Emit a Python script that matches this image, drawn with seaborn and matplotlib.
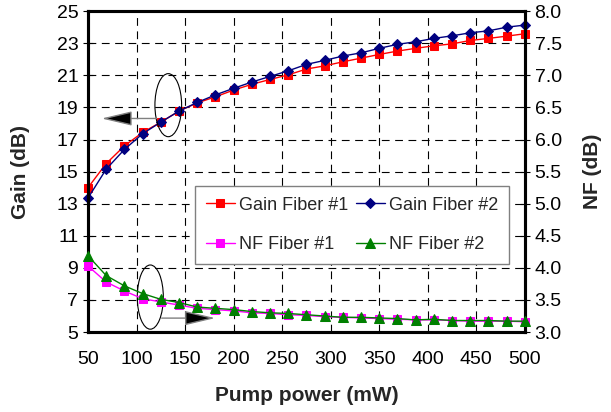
import pandas as pd
import seaborn as sns
import matplotlib.pyplot as plt
from matplotlib.patches import Ellipse

power = [50, 68.75, 87.5, 106.25, 125, 143.75, 162.5, 181.25, 200, 218.75, 237.5, 256.25,
         275, 293.75, 312.5, 331.25, 350, 368.75, 387.5, 406.25, 425, 443.75, 462.5, 481.25, 500]
gain1 = [14.0, 15.5, 16.6, 17.44, 18.08, 18.77, 19.28, 19.66, 20.08, 20.44, 20.74, 21.03,
         21.39, 21.59, 21.84, 22.07, 22.3, 22.51, 22.68, 22.84, 22.96, 23.17, 23.3, 23.44, 23.59]
gain2 = [13.35, 15.15, 16.38, 17.36, 18.08, 18.77, 19.31, 19.78, 20.19, 20.58, 20.93, 21.28,
         21.68, 21.93, 22.2, 22.4, 22.68, 22.93, 23.09, 23.3, 23.46, 23.65, 23.77, 24.0, 24.13]
nf1 = [4.03, 3.78, 3.64, 3.52, 3.47, 3.42, 3.37, 3.35, 3.33, 3.30, 3.29, 3.27,
       3.26, 3.24, 3.23, 3.22, 3.21, 3.20, 3.19, 3.19, 3.18, 3.17, 3.17, 3.17, 3.16]
nf2 = [4.19, 3.88, 3.72, 3.60, 3.51, 3.46, 3.39, 3.37, 3.35, 3.32, 3.30, 3.29,
       3.27, 3.25, 3.23, 3.23, 3.22, 3.21, 3.19, 3.20, 3.18, 3.18, 3.18, 3.17, 3.17]

df = pd.DataFrame({"power": power, "gain1": gain1, "gain2": gain2, "nf1": nf1, "nf2": nf2})

sns.set_style("white")
plt.rcParams["font.family"] = ["Liberation Sans", "DejaVu Sans"]

fig = plt.figure(figsize=(6.11, 4.12), dpi=100)
ax = fig.add_axes([0.144, 0.194, 0.715, 0.779])
ax2 = ax.twinx()

kw = dict(linewidth=1, clip_on=False, legend=False)
sns.lineplot(data=df, x="power", y="gain1", ax=ax, color="#FF0000", marker="s",
             markersize=6, markeredgecolor="#FF0000", zorder=4, **kw)
sns.lineplot(data=df, x="power", y="gain2", ax=ax, color="#000080", marker="D",
             markersize=5, markeredgecolor="#000080", zorder=5, **kw)
sns.lineplot(data=df, x="power", y="nf1", ax=ax2, color="#FF00FF", marker="s",
             markersize=6, markeredgecolor="#FF00FF", zorder=4, **kw)
sns.lineplot(data=df, x="power", y="nf2", ax=ax2, color="#008000", marker="^",
             markersize=7, markeredgecolor="#008000", zorder=5, **kw)

ax.set_xlim(50, 500)
ax.set_ylim(5, 25)
ax2.set_ylim(3.0, 8.0)
ax.set_xticks(range(50, 501, 50))
ax.set_yticks(range(5, 26, 2))
ax2.set_yticks([3.0 + 0.5 * i for i in range(11)])
ax2.set_yticklabels([f"{3.0 + 0.5 * i:.1f}" for i in range(11)])

ax.grid(True, color="black", linestyle=(0, (7, 5)), linewidth=0.8)
ax.set_axisbelow(True)
for a in (ax, ax2):
    for s in a.spines.values():
        s.set_color("black")
        s.set_linewidth(2.2)
    a.tick_params(direction="inout", length=7, width=0.8, labelsize=14, colors="black")
ax.tick_params(axis="x", pad=10)

ax.set_xlabel("Pump power (mW)", fontsize=15, fontweight="bold", labelpad=13)
ax.set_ylabel("Gain (dB)", fontsize=15, fontweight="bold", labelpad=19)
ax2.set_ylabel("NF (dB)", fontsize=15, fontweight="bold", rotation=90, labelpad=15)

# annotation ellipses and arrows
ax.add_patch(Ellipse((132.7, 19.14), 27.5, 3.93, fill=False, edgecolor="black", linewidth=0.8, zorder=6))
ax.add_patch(Ellipse((114.2, 7.18), 26.8, 4.0, fill=False, edgecolor="black", linewidth=0.8, zorder=6))
arrow = dict(arrowstyle="-|>,head_length=19,head_width=4.5", mutation_scale=1,
             fc="black", ec="#808080", lw=1, shrinkA=0, shrinkB=0)
ax.annotate("", xy=(64, 18.31), xytext=(120.7, 18.31), arrowprops=arrow, zorder=6)
ax.annotate("", xy=(181, 5.87), xytext=(125.9, 5.87), arrowprops=arrow, zorder=6)

handles = ax.get_lines()[:2] + ax2.get_lines()[:2]
labels = ["Gain Fiber #1", "Gain Fiber #2", "NF Fiber #1", "NF Fiber #2"]
order = [0, 2, 1, 3]
leg = ax2.legend([handles[i] for i in order], [labels[i] for i in order], ncol=2,
                 loc="upper left", bbox_to_anchor=(0.245, 0.456),
                 frameon=True, fancybox=False, edgecolor="#808080", framealpha=1,
                 fontsize=13, handlelength=1.6, labelspacing=1.25, borderpad=0.6,
                 borderaxespad=0, handletextpad=0.25, columnspacing=0.4)
leg.get_frame().set_linewidth(1.0)

fig.savefig("out.png", dpi=100)
